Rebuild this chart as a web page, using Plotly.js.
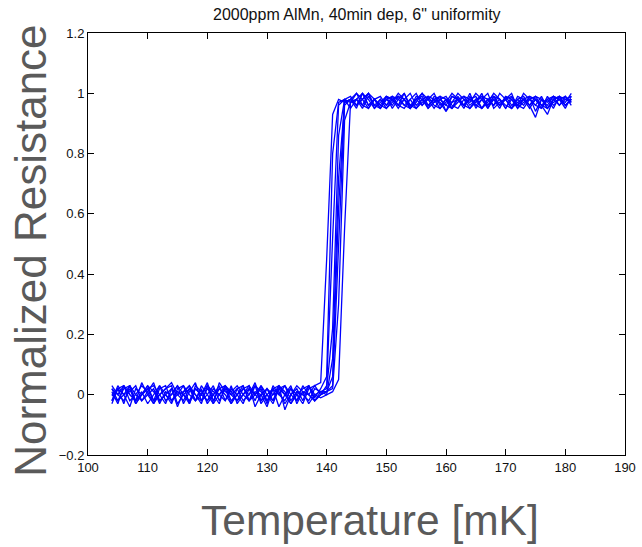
<!DOCTYPE html>
<html>
<head>
<meta charset="utf-8">
<script src="https://cdn.plot.ly/plotly-3.0.1.min.js"></script>
<style>html,body{margin:0;padding:0;background:#fff;}#chart{width:642px;height:547px;}</style>
</head>
<body>
<div id="chart"></div>
<script>
// Temperature [mK]
const T = [104,105,106,107,108,109,110,111,112,113,114,115,116,117,118,119,120,121,122,123,
  124,125,126,127,128,129,130,131,132,133,134,135,136,137,138,139,140,141,142,143,
  144,145,146,147,148,149,150,151,152,153,154,155,156,157,158,159,160,161,162,163,
  164,165,166,167,168,169,170,171,172,173,174,175,176,177,178,179,180,181];

// Normalized resistance, one array per sweep
const r1 = [0.01,-0.03,0.03,0.00,-0.02,0.04,0.00,-0.03,0.02,0.03,-0.02,0.00,0.03,-0.03,0.02,0.00,0.04,-0.02,0.02,0.00,-0.03,0.02,0.03,-0.02,0.00,0.02,-0.03,0.03,0.00,-0.02,0.02,0.00,-0.03,0.02,0.03,0.04,
  0.45,0.93,0.98,0.97,
  0.98,0.95,1.00,0.96,0.98,0.95,0.99,0.98,0.96,1.00,0.95,0.98,0.96,0.99,0.98,0.95,0.97,1.00,0.98,0.96,0.95,0.98,0.99,0.96,0.98,0.95,0.99,0.96,0.98,0.96,0.99,0.94,0.98,0.96,0.99,0.98,0.96,0.98];
const r2 = [-0.02,0.03,0.00,-0.04,0.02,0.00,0.03,-0.02,0.00,0.02,0.03,-0.03,0.00,0.02,-0.02,0.03,0.00,-0.03,0.04,0.01,0.00,-0.02,0.02,0.03,-0.04,0.00,0.02,-0.02,0.03,0.00,-0.03,0.01,0.00,0.03,-0.02,0.00,
  0.03,0.52,0.96,0.98,
  0.97,1.00,0.98,0.95,0.98,0.99,0.96,0.98,0.95,0.98,1.00,0.96,0.98,0.95,0.99,0.98,0.96,0.95,0.98,0.99,0.96,0.98,0.95,0.97,1.00,0.98,0.96,0.95,0.98,0.99,0.96,0.92,0.98,0.97,0.99,0.98,0.95,0.99];
const r3 = [0.00,0.02,-0.03,0.03,0.00,-0.02,0.01,0.04,-0.02,0.00,-0.03,0.02,0.03,0.00,-0.02,0.02,-0.03,0.00,0.03,-0.02,0.02,0.00,-0.03,0.02,0.00,0.03,-0.02,0.02,-0.04,0.00,0.02,-0.02,0.03,0.00,-0.02,0.01,
  0.02,0.22,0.86,0.98,
  0.99,0.96,0.98,1.00,0.95,0.98,0.96,0.99,0.98,0.96,0.95,0.99,0.98,0.96,0.98,0.99,0.94,0.97,0.98,0.95,0.99,0.96,0.98,1.00,0.95,0.97,0.98,0.99,0.96,0.95,0.98,0.96,0.99,0.95,0.98,0.99,0.96,0.98];
const r4 = [0.03,0.00,-0.02,0.02,-0.03,0.00,0.03,0.01,-0.02,0.00,0.02,-0.04,0.01,0.03,0.00,-0.02,0.00,0.03,-0.02,0.02,-0.03,0.00,0.02,0.00,0.04,-0.02,0.00,-0.03,0.02,0.03,0.00,-0.02,0.01,-0.03,0.00,0.01,
  0.01,0.03,0.48,0.96,
  0.98,0.96,1.00,0.98,0.95,0.97,0.99,0.98,0.96,0.95,0.98,1.00,0.96,0.98,0.97,0.99,0.98,0.95,0.99,0.96,0.98,0.97,1.00,0.95,0.98,0.96,0.99,0.98,0.95,0.98,0.96,0.99,0.98,0.95,0.97,0.98,0.99,0.96];
const r5 = [-0.03,0.02,0.00,0.03,-0.02,0.01,-0.03,0.00,0.03,-0.02,0.00,0.03,-0.03,0.01,0.04,-0.02,0.02,0.00,-0.03,0.03,0.00,0.02,-0.02,0.00,0.03,-0.03,0.00,0.02,0.03,-0.05,0.00,0.02,-0.02,0.03,0.00,-0.01,
  0.00,0.12,0.72,0.97,
  0.98,1.00,0.96,0.95,0.98,0.96,0.99,0.95,0.98,1.00,0.96,0.98,0.99,0.95,0.97,0.98,0.99,0.96,0.95,0.98,0.97,1.00,0.98,0.95,0.99,0.96,0.98,0.95,0.99,0.98,0.96,0.98,0.95,0.99,0.96,0.98,0.97,1.00];
const r6 = [0.02,0.00,0.03,-0.02,0.00,0.03,0.01,-0.03,0.00,0.02,0.04,0.00,-0.02,0.02,0.00,-0.03,0.03,0.01,0.00,-0.02,0.03,-0.03,0.00,0.02,-0.02,0.03,0.00,-0.02,0.02,0.00,0.03,-0.03,0.01,0.00,0.03,0.00,
  0.01,0.02,0.30,0.91,
  0.97,0.98,0.95,0.99,0.96,0.98,0.95,0.97,1.00,0.98,0.96,0.95,0.98,0.99,0.96,0.95,0.98,0.97,1.00,0.98,0.95,0.97,0.99,0.98,0.96,0.98,0.95,0.99,0.96,0.98,0.95,0.98,0.96,0.93,0.98,0.99,0.96,0.98];
const r7 = [0.00,-0.02,0.02,0.03,-0.03,0.00,0.02,-0.02,0.03,0.00,-0.02,0.01,0.00,-0.03,0.03,0.01,-0.02,0.00,0.02,0.03,-0.02,0.00,0.03,-0.02,0.01,0.00,-0.04,0.02,0.00,0.03,-0.02,0.01,0.00,-0.02,0.02,0.01,
  0.00,0.01,0.05,0.55,
  0.97,0.98,1.00,0.96,0.98,0.95,0.98,0.99,0.96,0.98,0.95,0.97,1.00,0.98,0.95,0.98,0.96,0.99,0.98,0.96,1.00,0.95,0.98,0.96,0.99,0.98,0.95,0.98,0.96,1.00,0.98,0.96,0.95,0.98,0.99,0.96,0.98,0.99];
const r8 = [0.02,-0.02,0.00,0.01,0.03,-0.02,0.00,0.02,-0.03,0.01,0.00,0.03,0.00,-0.02,0.02,0.00,0.03,-0.03,0.00,0.02,0.01,0.03,0.00,-0.02,0.03,0.01,-0.02,0.00,0.03,0.01,-0.03,0.00,0.02,0.03,-0.01,0.02,
  0.06,0.80,0.97,0.98,
  0.95,0.98,0.96,1.00,0.98,0.96,0.95,0.98,0.99,0.96,0.98,0.95,0.97,0.98,1.00,0.96,0.98,0.95,0.97,0.99,0.98,0.96,0.95,0.98,0.99,0.96,0.98,1.00,0.95,0.97,0.98,0.99,0.96,0.98,0.95,0.99,0.98,0.97];
const r9 = [-0.02,0.02,0.03,0.00,-0.02,0.00,0.02,0.03,0.00,-0.03,0.02,0.00,0.01,0.03,-0.02,0.00,-0.02,0.02,0.00,0.03,0.01,-0.02,0.00,0.03,0.00,-0.02,0.02,0.00,0.01,-0.03,0.00,0.03,0.01,0.00,-0.02,0.00,
  0.01,0.06,0.62,0.97,
  0.98,0.96,0.98,1.00,0.96,0.95,0.98,0.96,0.99,0.98,0.95,0.98,1.00,0.96,0.98,0.97,0.94,0.99,0.98,0.96,0.98,0.99,0.95,0.98,0.96,1.00,0.98,0.95,0.97,0.98,0.99,0.98,0.96,0.95,0.98,0.96,0.99,0.97];

const sweeps = [r1, r2, r3, r4, r5, r6, r7, r8, r9];

const titleText = '2000ppm AlMn, 40min dep, 6" uniformity';
const xTitle = 'Temperature [mK]';
const yTitle = 'Normalized Resistance';

const traces = sweeps.map(function (r) {
  return {x: T, y: r, type: 'scatter', mode: 'lines',
    line: {color: 'rgb(0,0,255)', width: 1.3}, showlegend: false, hoverinfo: 'skip'};
});

const tickFont = {family: 'Arial, Liberation Sans, sans-serif', size: 13, color: '#111'};

const layout = {
  width: 642, height: 547,
  margin: {l: 88, r: 17, t: 33, b: 92, pad: 0},
  paper_bgcolor: '#fff', plot_bgcolor: '#fff',
  showlegend: false,
  xaxis: {range: [100, 190], dtick: 10, tick0: 100, ticks: 'inside', ticklen: 6, tickcolor: '#000',
    mirror: 'ticks', showline: true, linecolor: '#000', linewidth: 1, showgrid: false, zeroline: false,
    tickfont: tickFont},
  yaxis: {range: [-0.2, 1.2], dtick: 0.2, tick0: -0.2, ticks: 'inside', ticklen: 6, tickcolor: '#000',
    mirror: 'ticks', showline: true, linecolor: '#000', linewidth: 1, showgrid: false, zeroline: false,
    tickfont: tickFont},
  annotations: [
    {text: titleText, xref: 'paper', yref: 'paper', x: 0.5, y: 1, yshift: 19, xanchor: 'center', yanchor: 'middle',
      showarrow: false, font: {family: 'Arial, Liberation Sans, sans-serif', size: 16, color: '#111'}},
    {text: xTitle, xref: 'paper', yref: 'paper', x: 0.525, y: -0.155, xanchor: 'center', yanchor: 'middle',
      showarrow: false, font: {family: 'Arial, Liberation Sans, sans-serif', size: 42.5, color: '#5a5a5a'}},
    {text: yTitle, xref: 'paper', yref: 'paper', x: -0.106, y: 0.484, xanchor: 'center', yanchor: 'middle',
      textangle: -90, showarrow: false, font: {family: 'Arial, Liberation Sans, sans-serif', size: 44, color: '#5a5a5a'}}
  ]
};

Plotly.newPlot('chart', traces, layout, {staticPlot: true, displayModeBar: false});
</script>
</body>
</html>
